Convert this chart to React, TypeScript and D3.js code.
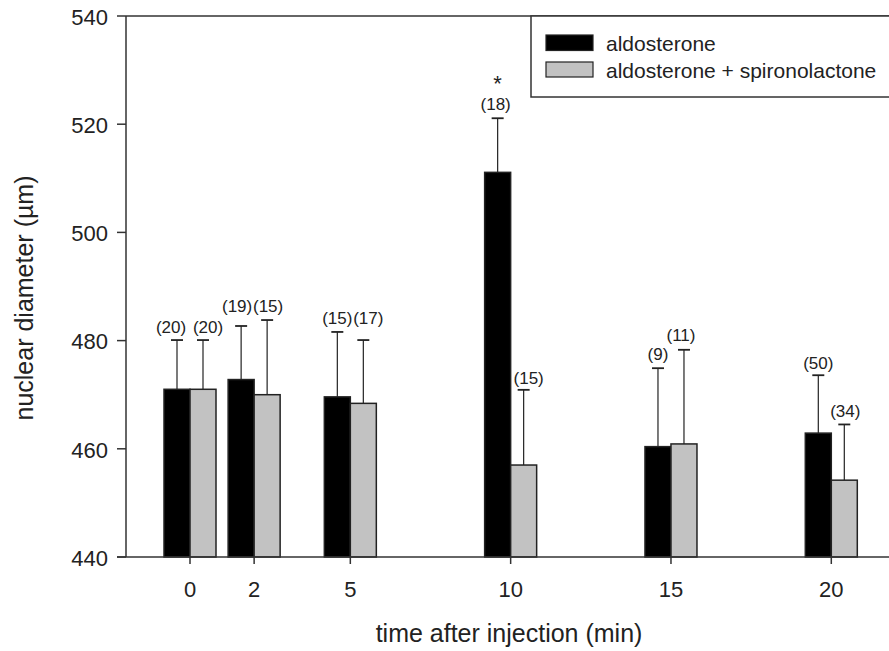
import React from "react";
import * as d3 from "d3";

const times = [0, 2, 5, 10, 15, 20];
const aldoMean = [471, 472.8, 469.6, 511.1, 460.4, 462.9];
const aldoErr = [480.1, 482.7, 481.6, 521.1, 474.9, 473.6];
const aldoN = ["(20)", "(19)", "(15)", "(18)", "(9)", "(50)"];
const spiroMean = [471, 470, 468.4, 457, 460.9, 454.2];
const spiroErr = [480.1, 483.8, 480.1, 470.9, 478.3, 464.5];
const spiroN = ["(20)", "(15)", "(17)", "(15)", "(11)", "(34)"];
const yTicks = [440, 460, 480, 500, 520, 540];
const seriesNames = ["aldosterone", "aldosterone + spironolactone"];

const W = 889;
const H = 651;
const left = 126;
const top = 16;
const bottom = 557;
const font = "Liberation Sans, Arial, Helvetica, sans-serif";

// label layout tweaks (pixels): horizontal shift and vertical offset of label center from cap
const aldoLblDx = [-6, -4, 0, -2, 0, 0];
const aldoLblDy = [-13.5, -19.5, -14, -14, -14.5, -12];
const spiroLblDx = [5, 1, 5, 5, -3, 1];
const spiroLblDy = [-13.5, -13.5, -22, -12, -15, -13.5];

export default function App() {
  const x = d3.scaleLinear().domain([0, 20]).range([190, 831.3]);
  const y = d3.scaleLinear().domain([440, 540]).range([bottom, top]);
  const bw = 26;
  const grey = "#c2c2c2";
  const series = [
    { mean: aldoMean, err: aldoErr, n: aldoN, fill: "#000", off: -bw, dx: aldoLblDx, dy: aldoLblDy },
    { mean: spiroMean, err: spiroErr, n: spiroN, fill: grey, off: 0, dx: spiroLblDx, dy: spiroLblDy },
  ];
  return (
    <svg width={W} height={H} style={{ display: "block", position: "absolute", left: 0, top: 0, background: "#fff" }} fontFamily={font}>
      {series.map((s, si) =>
        times.map((t, i) => {
          const x0 = x(t) + s.off;
          const cx = x0 + bw / 2;
          return (
            <g key={`${si}-${i}`}>
              <line x1={cx} x2={cx} y1={y(s.mean[i])} y2={y(s.err[i])} stroke="#222" strokeWidth={1.2} />
              <line x1={cx - 6} x2={cx + 6} y1={y(s.err[i])} y2={y(s.err[i])} stroke="#222" strokeWidth={1.8} />
              <rect x={x0} y={y(s.mean[i])} width={bw} height={y(440) - y(s.mean[i])} fill={s.fill} stroke="#222" strokeWidth={1.5} />
              <text x={cx + s.dx[i]} y={y(s.err[i]) + s.dy[i]} dy="0.35em" fontSize={17} textAnchor="middle" fill="#222">{s.n[i]}</text>
            </g>
          );
        })
      )}
      <text x={x(10) - bw / 2} y={y(aldoErr[3]) - 27} fontSize={22} textAnchor="middle" fill="#222">*</text>
      <line x1={left} x2={left} y1={top} y2={bottom} stroke="#333" strokeWidth={1.5} />
      <line x1={left} x2={W} y1={top} y2={top} stroke="#333" strokeWidth={1.5} />
      <line x1={left - 9} x2={W} y1={bottom} y2={bottom} stroke="#333" strokeWidth={1.5} />
      {yTicks.map((v) => (
        <g key={v}>
          <line x1={left - 9} x2={left} y1={y(v)} y2={y(v)} stroke="#333" strokeWidth={1.5} />
          <text x={108} y={y(v) + 1} dy="0.35em" fontSize={22} textAnchor="end" fill="#222">{v}</text>
        </g>
      ))}
      {times.map((t) => (
        <g key={t}>
          <line x1={x(t)} x2={x(t)} y1={bottom} y2={bottom + 7} stroke="#333" strokeWidth={1.5} />
          <text x={x(t)} y={589} dy="0.35em" fontSize={22} textAnchor="middle" fill="#222">{t}</text>
        </g>
      ))}
      <text x={509} y={633} dy="0.35em" fontSize={25} textAnchor="middle" fill="#222">time after injection (min)</text>
      <text transform={`translate(24,298) rotate(-90)`} dy="0.35em" fontSize={25} textAnchor="middle" fill="#222">nuclear diameter (µm)</text>
      <rect x={531} y={top} width={W - 531 + 10} height={97 - top} fill="#fff" stroke="#333" strokeWidth={1.5} />
      <rect x={546} y={35} width={47} height={15.5} fill="#000" stroke="#222" strokeWidth={1.2} />
      <rect x={546} y={62} width={47} height={15} fill={grey} stroke="#222" strokeWidth={1.2} />
      <text x={606} y={44} dy="0.35em" fontSize={21} fill="#222">{seriesNames[0]}</text>
      <text x={606} y={71} dy="0.35em" fontSize={21} fill="#222">{seriesNames[1]}</text>
    </svg>
  );
}
